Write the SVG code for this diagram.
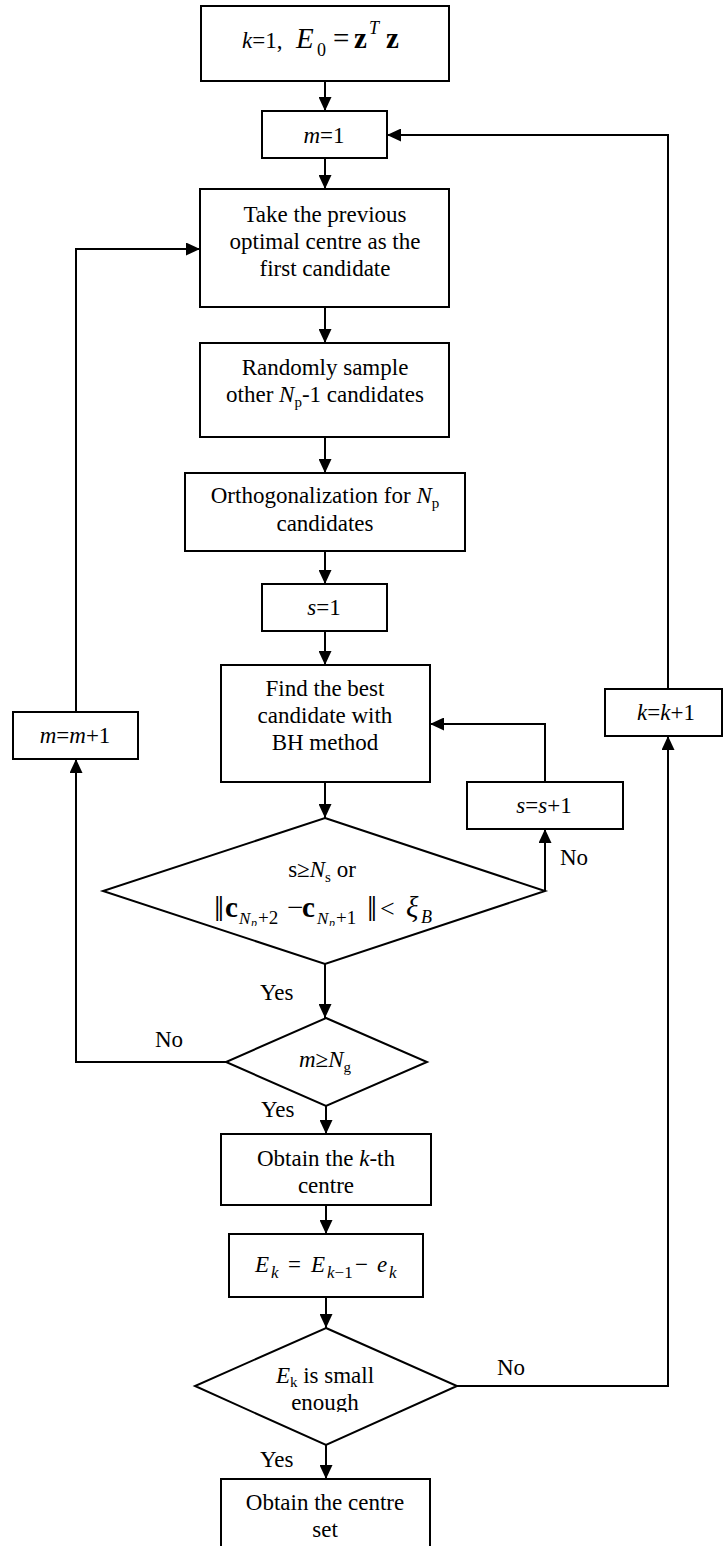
<svg xmlns="http://www.w3.org/2000/svg" width="724" height="1546" viewBox="0 0 724 1546">
<style>
text{font-family:"Liberation Serif","Times New Roman",serif;font-size:23px;fill:#000}
.c{text-anchor:middle}
.i{font-style:italic}
.b{font-weight:bold}
.box{fill:#fff;stroke:#000;stroke-width:2}
.ln{fill:none;stroke:#000;stroke-width:2}
</style>
<defs>
<marker id="ah" viewBox="0 0 14 13" refX="14" refY="6.5" markerWidth="14" markerHeight="13" markerUnits="userSpaceOnUse" orient="auto">
<path d="M0,0 L14,6.5 L0,13 z" fill="#000"/>
</marker>
<clipPath id="clipEnough"><rect x="240" y="1388" width="160" height="24"/></clipPath>
<clipPath id="clipForm"><rect x="200" y="880" width="250" height="46"/></clipPath>
</defs>
<rect width="724" height="1546" fill="#fff"/>

<g id="connectors">
<path class="ln" d="M325,81 V111" marker-end="url(#ah)"/>
<path class="ln" d="M325,158 V189" marker-end="url(#ah)"/>
<path class="ln" d="M325,307 V343" marker-end="url(#ah)"/>
<path class="ln" d="M325,437 V473" marker-end="url(#ah)"/>
<path class="ln" d="M325,551 V584" marker-end="url(#ah)"/>
<path class="ln" d="M325,631 V665" marker-end="url(#ah)"/>
<path class="ln" d="M325,782 V818" marker-end="url(#ah)"/>
<path class="ln" d="M325,964 L325,1018" marker-end="url(#ah)"/>
<path class="ln" d="M545,891 V829" marker-end="url(#ah)"/>
<path class="ln" d="M545,782 V724 H430" marker-end="url(#ah)"/>
<path class="ln" d="M226,1062 H76 V759" marker-end="url(#ah)"/>
<path class="ln" d="M76,712 V249 H200" marker-end="url(#ah)"/>
<path class="ln" d="M326,1106 V1134" marker-end="url(#ah)"/>
<path class="ln" d="M326,1205 V1234" marker-end="url(#ah)"/>
<path class="ln" d="M326,1297 V1328" marker-end="url(#ah)"/>
<path class="ln" d="M457,1386 H668 V736" marker-end="url(#ah)"/>
<path class="ln" d="M668,689 V135 H387" marker-end="url(#ah)"/>
<path class="ln" d="M326,1445 V1479" marker-end="url(#ah)"/>
<text x="560" y="865">No</text>
<text x="260" y="1000">Yes</text>
<text x="155" y="1047">No</text>
<text x="261" y="1117">Yes</text>
<text x="497" y="1375">No</text>
<text x="260" y="1467">Yes</text>
</g>

<g id="n-init">
<rect class="box" x="201" y="6" width="248" height="75"/>
<text y="48"><tspan x="242" class="i">k</tspan>=1,<tspan x="296" class="i" font-size="29">E</tspan><tspan x="317" y="56" font-size="18">0</tspan><tspan x="333" y="48" font-size="29">=</tspan><tspan x="354" class="b" font-size="29">z</tspan><tspan x="369" y="34" class="i" font-size="18">T</tspan><tspan x="386" y="48" class="b" font-size="29">z</tspan></text>
</g>

<g id="n-m1">
<rect class="box" x="262" y="111" width="125" height="47"/>
<text class="c" x="324" y="143"><tspan class="i">m</tspan>=1</text>
</g>

<g id="n-take">
<rect class="box" x="200" y="189" width="249" height="118"/>
<text class="c" x="325" y="222">Take the previous</text>
<text class="c" x="325" y="249">optimal centre as the</text>
<text class="c" x="325" y="276">first candidate</text>
</g>

<g id="n-random">
<rect class="box" x="200" y="343" width="249" height="94"/>
<text class="c" x="325" y="375">Randomly sample</text>
<text class="c" x="325" y="402">other <tspan class="i">N</tspan><tspan font-size="15" dy="5">p</tspan><tspan dy="-5">-1 candidates</tspan></text>
</g>

<g id="n-ortho">
<rect class="box" x="185" y="473" width="280" height="78"/>
<text class="c" x="325" y="503">Orthogonalization for <tspan class="i">N</tspan><tspan font-size="15" dy="5">p</tspan></text>
<text class="c" x="325" y="531">candidates</text>
</g>

<g id="n-s1">
<rect class="box" x="262" y="584" width="125" height="47"/>
<text class="c" x="324" y="615"><tspan class="i">s</tspan>=1</text>
</g>

<g id="n-find">
<rect class="box" x="221" y="665" width="209" height="117"/>
<text class="c" x="325" y="696">Find the best</text>
<text class="c" x="325" y="723">candidate with</text>
<text class="c" x="325" y="750">BH method</text>
</g>

<g id="n-ss1">
<rect class="box" x="467" y="782" width="156" height="47"/>
<text class="c" x="544" y="813"><tspan class="i">s</tspan>=<tspan class="i">s</tspan>+1</text>
</g>

<g id="n-cond1">
<polygon class="box" points="325,818 545,891 325,964 103,891"/>
<text class="c" x="322" y="877">s≥<tspan class="i">N</tspan><tspan font-size="15" dy="5">s</tspan><tspan dy="-5"> or</tspan></text>
<g clip-path="url(#clipForm)">
<text y="917"><tspan x="214" y="921" font-size="36">‖</tspan><tspan x="225" y="917" class="b" font-size="29">c</tspan><tspan x="239" y="924" class="i" font-size="17">N</tspan><tspan x="251" y="927" class="i" font-size="12">p</tspan><tspan x="258" y="924" font-size="19">+2</tspan><tspan x="287" y="917" font-size="29">−</tspan><tspan x="302" class="b" font-size="29">c</tspan><tspan x="317" y="924" class="i" font-size="17">N</tspan><tspan x="329" y="927" class="i" font-size="12">p</tspan><tspan x="336" y="924" font-size="19">+1</tspan><tspan x="367" y="921" font-size="36">‖</tspan><tspan x="380" y="917" font-size="26">&lt;</tspan><tspan x="406" class="i" font-size="29">ξ</tspan><tspan x="421" y="923" class="i" font-size="18">B</tspan></text>
</g>
</g>

<g id="n-mm1">
<rect class="box" x="13" y="712" width="125" height="47"/>
<text class="c" x="75" y="743"><tspan class="i">m</tspan>=<tspan class="i">m</tspan>+1</text>
</g>

<g id="n-cond2">
<polygon class="box" points="326,1018 427,1062 326,1106 226,1062"/>
<text class="c" x="325" y="1067" font-size="22"><tspan class="i">m</tspan>≥<tspan class="i">N</tspan><tspan font-size="15" dy="5">g</tspan></text>
</g>

<g id="n-kth">
<rect class="box" x="221" y="1134" width="210" height="71"/>
<text class="c" x="326" y="1166">Obtain the <tspan class="i">k</tspan>-th</text>
<text class="c" x="326" y="1193">centre</text>
</g>

<g id="n-ek">
<rect class="box" x="229" y="1234" width="194" height="63"/>
<text y="1272" class="i" font-size="29"><tspan x="255">E</tspan><tspan x="271" y="1278" font-size="17">k</tspan><tspan x="288" y="1272" font-style="normal">=</tspan><tspan x="311">E</tspan><tspan x="327" y="1278" font-size="17">k</tspan><tspan y="1278" font-size="17" font-style="normal">−1</tspan><tspan x="355" y="1272" font-style="normal">−</tspan><tspan x="377">e</tspan><tspan x="389" y="1278" font-size="17">k</tspan></text>
</g>

<g id="n-cond3">
<polygon class="box" points="326,1328 457,1386 326,1445 195,1386"/>
<text class="c" x="325" y="1383"><tspan class="i">E</tspan><tspan font-size="15" dy="4">k</tspan><tspan dy="-4"> is small</tspan></text>
<text class="c" x="325" y="1410" clip-path="url(#clipEnough)">enough</text>
</g>

<g id="n-kk1">
<rect class="box" x="605" y="689" width="117" height="47"/>
<text class="c" x="666" y="720"><tspan class="i">k</tspan>=<tspan class="i">k</tspan>+1</text>
</g>

<g id="n-final">
<rect class="box" x="221" y="1479" width="209" height="80"/>
<text class="c" x="325" y="1510">Obtain the centre</text>
<text class="c" x="325" y="1537">set</text>
</g>
</svg>
